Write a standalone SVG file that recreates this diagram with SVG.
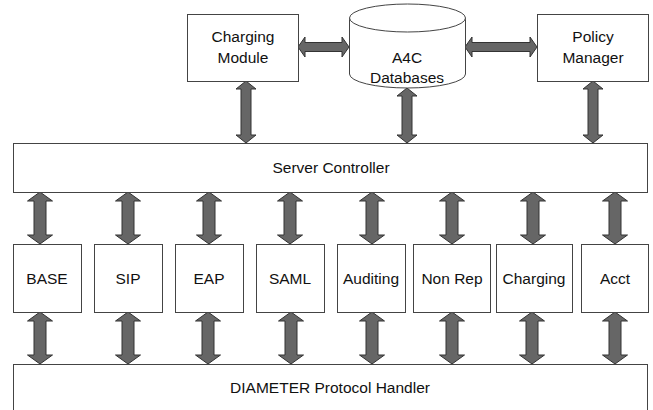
<svg xmlns="http://www.w3.org/2000/svg" width="653" height="410" viewBox="0 0 653 410">
<style>
.box{fill:#fff;stroke:#444;stroke-width:1}
.t{font-family:"Liberation Sans",Arial,sans-serif;font-size:15.5px;fill:#111;text-anchor:middle}
.arr{fill:#666;stroke:#333;stroke-width:1;stroke-linejoin:miter}
</style>
<rect width="653" height="410" fill="#fff"/>
<g id="connectors">
<!-- horizontal top -->
<path class="arr" d="M298,47 L305,37 L305,42.5 L342,42.5 L342,37 L349,47 L342,57 L342,51.5 L305,51.5 L305,57 Z"/>
<path class="arr" d="M465,47 L472,37 L472,42.5 L530,42.5 L530,37 L537,47 L530,57 L530,51.5 L472,51.5 L472,57 Z"/>
<!-- top verticals -->
<path class="arr" d="M246,81 L256,89 L251,89 L251,135 L256,135 L246,143 L236,135 L241,135 L241,89 L236,89 Z"/>
<path class="arr" d="M407,88 L417,96 L412,96 L412,135 L417,135 L407,143 L397,135 L402,135 L402,96 L397,96 Z"/>
<path class="arr" d="M593,81 L603,89 L598,89 L598,135 L603,135 L593,143 L583,135 L588,135 L588,89 L583,89 Z"/>
<!-- middle row arrows -->
<g id="mid-arrows">
<path class="arr" d="M40,192 L52.5,201 L46,201 L46,235 L52.5,235 L40,244 L27.5,235 L34,235 L34,201 L27.5,201 Z"/>
<path class="arr" d="M128,192 L140.5,201 L134,201 L134,235 L140.5,235 L128,244 L115.5,235 L122,235 L122,201 L115.5,201 Z"/>
<path class="arr" d="M209,192 L221.5,201 L215,201 L215,235 L221.5,235 L209,244 L196.5,235 L203,235 L203,201 L196.5,201 Z"/>
<path class="arr" d="M290,192 L302.5,201 L296,201 L296,235 L302.5,235 L290,244 L277.5,235 L284,235 L284,201 L277.5,201 Z"/>
<path class="arr" d="M372,192 L384.5,201 L378,201 L378,235 L384.5,235 L372,244 L359.5,235 L366,235 L366,201 L359.5,201 Z"/>
<path class="arr" d="M452,192 L464.5,201 L458,201 L458,235 L464.5,235 L452,244 L439.5,235 L446,235 L446,201 L439.5,201 Z"/>
<path class="arr" d="M533,192 L545.5,201 L539,201 L539,235 L545.5,235 L533,244 L520.5,235 L527,235 L527,201 L520.5,201 Z"/>
<path class="arr" d="M615,192 L627.5,201 L621,201 L621,235 L627.5,235 L615,244 L602.5,235 L609,235 L609,201 L602.5,201 Z"/>
</g>
<g id="bottom-arrows">
<path class="arr" d="M40,312 L52.5,321 L46,321 L46,355 L52.5,355 L40,364 L27.5,355 L34,355 L34,321 L27.5,321 Z"/>
<path class="arr" d="M128,312 L140.5,321 L134,321 L134,355 L140.5,355 L128,364 L115.5,355 L122,355 L122,321 L115.5,321 Z"/>
<path class="arr" d="M208,312 L220.5,321 L214,321 L214,355 L220.5,355 L208,364 L195.5,355 L202,355 L202,321 L195.5,321 Z"/>
<path class="arr" d="M291,312 L303.5,321 L297,321 L297,355 L303.5,355 L291,364 L278.5,355 L285,355 L285,321 L278.5,321 Z"/>
<path class="arr" d="M372,312 L384.5,321 L378,321 L378,355 L384.5,355 L372,364 L359.5,355 L366,355 L366,321 L359.5,321 Z"/>
<path class="arr" d="M452,312 L464.5,321 L458,321 L458,355 L464.5,355 L452,364 L439.5,355 L446,355 L446,321 L439.5,321 Z"/>
<path class="arr" d="M532,312 L544.5,321 L538,321 L538,355 L544.5,355 L532,364 L519.5,355 L526,355 L526,321 L519.5,321 Z"/>
<path class="arr" d="M615,312 L627.5,321 L621,321 L621,355 L627.5,355 L615,364 L602.5,355 L609,355 L609,321 L602.5,321 Z"/>
</g>
</g>
<g id="charging-module">
<rect class="box" x="187.5" y="14.5" width="111" height="67"/>
<text class="t" x="243" y="42">Charging</text>
<text class="t" x="243" y="63">Module</text>
</g>
<g id="a4c-databases">
<path class="box" d="M349.5,18 L349.5,74 A58,14 0 0 0 465.5,74 L465.5,18"/>
<ellipse class="box" cx="407.5" cy="18" rx="58" ry="14"/>
<text class="t" x="407" y="63">A4C</text>
<text class="t" x="407" y="83">Databases</text>
</g>
<g id="policy-manager">
<rect class="box" x="537.5" y="14.5" width="111" height="67"/>
<text class="t" x="593" y="42">Policy</text>
<text class="t" x="593" y="63">Manager</text>
</g>
<g id="server-controller">
<rect class="box" x="13.5" y="143.5" width="634" height="49"/>
<text class="t" x="331" y="173">Server Controller</text>
</g>
<g id="base"><rect class="box" x="13.5" y="244.5" width="68" height="68"/><text class="t" x="47" y="284">BASE</text></g>
<g id="sip"><rect class="box" x="94.5" y="244.5" width="68" height="68"/><text class="t" x="128" y="284">SIP</text></g>
<g id="eap"><rect class="box" x="175.5" y="244.5" width="68" height="68"/><text class="t" x="209" y="284">EAP</text></g>
<g id="saml"><rect class="box" x="256.5" y="244.5" width="68" height="68"/><text class="t" x="290" y="284">SAML</text></g>
<g id="auditing"><rect class="box" x="337.5" y="244.5" width="68" height="68"/><text class="t" x="371" y="284">Auditing</text></g>
<g id="non-rep"><rect class="box" x="413.5" y="244.5" width="77" height="68"/><text class="t" x="452" y="284">Non Rep</text></g>
<g id="charging"><rect class="box" x="496.5" y="244.5" width="76" height="68"/><text class="t" x="534" y="284">Charging</text></g>
<g id="acct"><rect class="box" x="581.5" y="244.5" width="67" height="68"/><text class="t" x="615" y="284">Acct</text></g>
<g id="diameter">
<rect class="box" x="13.5" y="364.5" width="634" height="60"/>
<text class="t" x="330" y="393">DIAMETER Protocol Handler</text>
</g>
</svg>
